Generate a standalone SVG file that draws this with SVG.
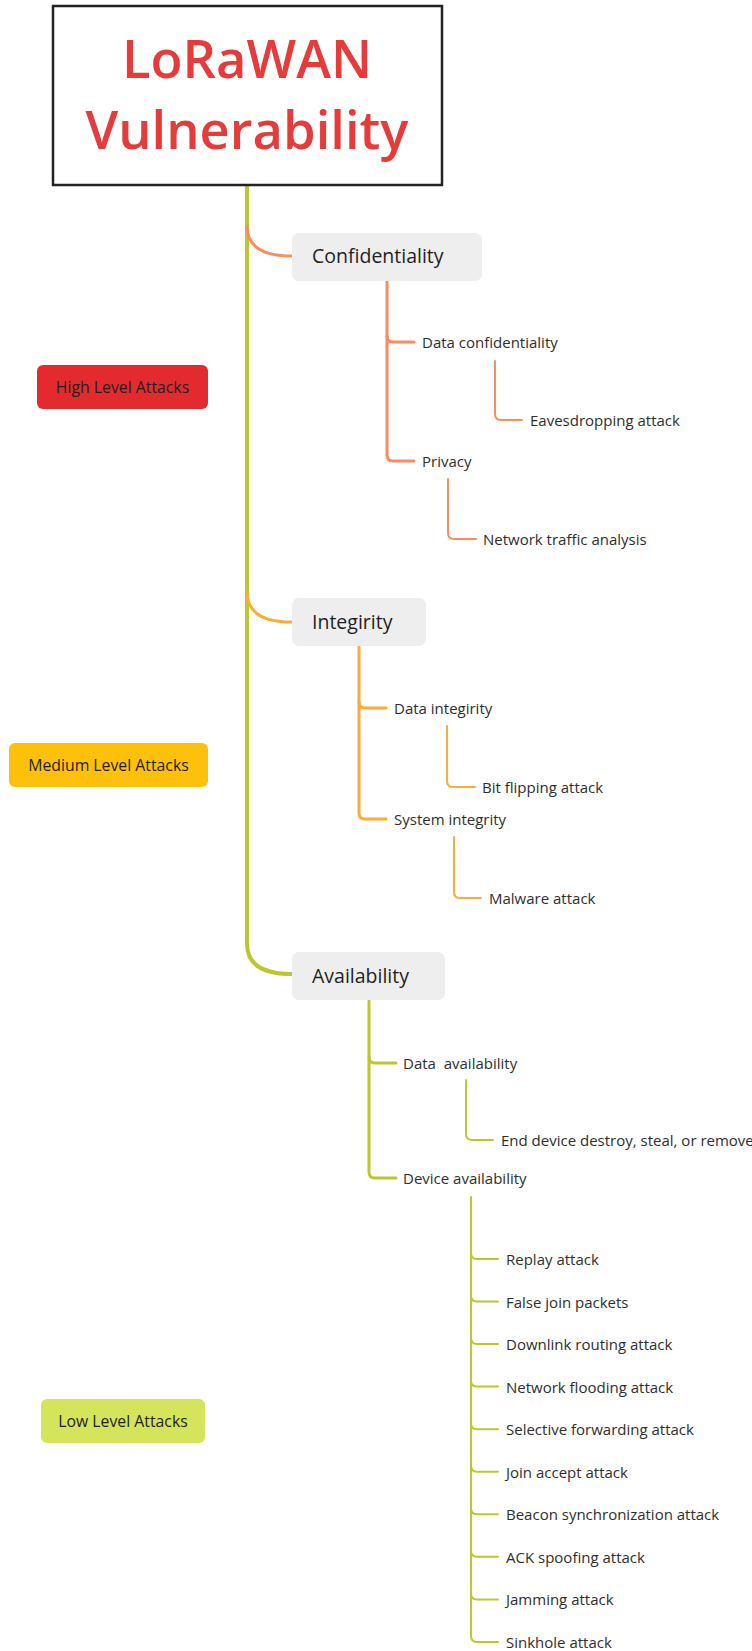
<svg xmlns="http://www.w3.org/2000/svg" width="752" height="1651" viewBox="0 0 752 1651">
  <style>
    text { font-family: "Open Sans", "Noto Sans", "Liberation Sans", sans-serif; fill: #2E2E2E; }
    .title { font-size: 52.5px; font-weight: 600; fill: #E53B3B; text-anchor: middle; }
    .topic { font-size: 19.5px; fill: #1F1F1F; }
    .leaf { font-size: 15px; }
    .legend { font-size: 15.8px; fill: #1F1F1F; text-anchor: middle; }
    .topicbox { fill: #EEEEEE; }
    .conn { fill: none; stroke-linecap: round; stroke-linejoin: round; }
    .o { stroke: #FF8A5C; }
    .y { stroke: #FFAA33; }
    .g { stroke: #BAC82E; }
    .w4 { stroke-width: 4; }
    .w3 { stroke-width: 3; }
    .w2 { stroke-width: 2; }
  </style>
  <rect x="0" y="0" width="752" height="1651" fill="#FFFFFF"/>

  <!-- connectors -->
  <g id="connectors" class="conn">
    <!-- trunk from the root down to Availability -->
    <path class="g w4" d="M247,186 L247,944 C247,964 262,974 292,974"/>
    <path class="o w3" d="M247,226 C247,246 262,256 292,256"/>
    <path class="y w3" d="M247,592 C247,612 262,622 292,622"/>

    <!-- Confidentiality branch -->
    <path class="o w3" d="M387,281 L387,336 Q387,342 393,342 L414,342"/>
    <path class="o w3" d="M387,336 L387,455 Q387,461 393,461 L414,461"/>
    <path class="o w2" d="M495,361 L495,414 Q495,420 501,420 L522,420"/>
    <path class="o w2" d="M448,479 L448,533 Q448,539 454,539 L476,539"/>

    <!-- Integrity branch -->
    <path class="y w3" d="M359,647 L359,702 Q359,708 365,708 L386,708"/>
    <path class="y w3" d="M359,702 L359,813 Q359,819 365,819 L386,819"/>
    <path class="y w2" d="M447,726 L447,781 Q447,787 453,787 L475,787"/>
    <path class="y w2" d="M454,837 L454,892 Q454,898 460,898 L481,898"/>

    <!-- Availability branch -->
    <path class="g w3" d="M369,1001 L369,1057 Q369,1063 375,1063 L396,1063"/>
    <path class="g w3" d="M369,1057 L369,1172 Q369,1178 375,1178 L396,1178"/>
    <path class="g w2" d="M466,1080 L466,1134 Q466,1140 472,1140 L493,1140"/>

    <!-- Device availability attacks -->
    <path class="g w2" d="M471,1197 L471,1636 Q471,1642 477,1642 L498,1642"/>
    <path class="g w2" d="M471,1253 Q471,1259 477,1259 L498,1259"/>
    <path class="g w2" d="M471,1295.5 Q471,1301.5 477,1301.5 L498,1301.5"/>
    <path class="g w2" d="M471,1338 Q471,1344 477,1344 L498,1344"/>
    <path class="g w2" d="M471,1380.6 Q471,1386.6 477,1386.6 L498,1386.6"/>
    <path class="g w2" d="M471,1423.2 Q471,1429.2 477,1429.2 L498,1429.2"/>
    <path class="g w2" d="M471,1465.7 Q471,1471.7 477,1471.7 L498,1471.7"/>
    <path class="g w2" d="M471,1508.3 Q471,1514.3 477,1514.3 L498,1514.3"/>
    <path class="g w2" d="M471,1550.8 Q471,1556.8 477,1556.8 L498,1556.8"/>
    <path class="g w2" d="M471,1593.4 Q471,1599.4 477,1599.4 L498,1599.4"/>
  </g>

  <!-- root -->
  <g id="root">
    <rect x="53" y="6" width="389" height="179" fill="#FFFFFF" stroke="#222222" stroke-width="2.5"/>
    <text class="title" x="247" y="78">LoRaWAN</text>
    <text class="title" x="247" y="149">Vulnerability</text>
  </g>

  <!-- legend badges -->
  <g id="legend-high">
    <rect x="37" y="365" width="171" height="44" rx="6" fill="#E32B2F"/>
    <text class="legend" x="122.5" y="393">High Level Attacks</text>
  </g>
  <g id="legend-medium">
    <rect x="9" y="743" width="199" height="44" rx="6" fill="#FEC10B"/>
    <text class="legend" x="108.5" y="771">Medium Level Attacks</text>
  </g>
  <g id="legend-low">
    <rect x="41" y="1399" width="164" height="44" rx="6" fill="#D4E55C"/>
    <text class="legend" x="123" y="1427">Low Level Attacks</text>
  </g>

  <!-- Confidentiality -->
  <g id="confidentiality">
    <rect class="topicbox" x="292" y="233" width="190" height="48" rx="7"/>
    <text class="topic" x="312" y="263">Confidentiality</text>
  </g>
  <g id="data-confidentiality"><text class="leaf" x="422" y="348">Data confidentiality</text></g>
  <g id="eavesdropping"><text class="leaf" x="530" y="426">Eavesdropping attack</text></g>
  <g id="privacy"><text class="leaf" x="422" y="467">Privacy</text></g>
  <g id="traffic-analysis"><text class="leaf" x="483" y="545">Network traffic analysis</text></g>

  <!-- Integrity -->
  <g id="integrity">
    <rect class="topicbox" x="292" y="598" width="134" height="48" rx="7"/>
    <text class="topic" x="312" y="629">Integirity</text>
  </g>
  <g id="data-integrity"><text class="leaf" x="394" y="714">Data integirity</text></g>
  <g id="bit-flipping"><text class="leaf" x="482" y="793">Bit flipping attack</text></g>
  <g id="system-integrity"><text class="leaf" x="394" y="825">System integrity</text></g>
  <g id="malware"><text class="leaf" x="489" y="904">Malware attack</text></g>

  <!-- Availability -->
  <g id="availability">
    <rect class="topicbox" x="292" y="952" width="153" height="48" rx="7"/>
    <text class="topic" x="312" y="983">Availability</text>
  </g>
  <g id="data-availability"><text class="leaf" x="403" y="1069" xml:space="preserve">Data  availability</text></g>
  <g id="end-device"><text class="leaf" x="501" y="1146">End device destroy, steal, or remove</text></g>
  <g id="device-availability"><text class="leaf" x="403" y="1184">Device availability</text></g>

  <g id="replay"><text class="leaf" x="506" y="1265">Replay attack</text></g>
  <g id="false-join"><text class="leaf" x="506" y="1307.5">False join packets</text></g>
  <g id="downlink-routing"><text class="leaf" x="506" y="1350">Downlink routing attack</text></g>
  <g id="network-flooding"><text class="leaf" x="506" y="1392.6">Network flooding attack</text></g>
  <g id="selective-forwarding"><text class="leaf" x="506" y="1435.2">Selective forwarding attack</text></g>
  <g id="join-accept"><text class="leaf" x="506" y="1477.7">Join accept attack</text></g>
  <g id="beacon-sync"><text class="leaf" x="506" y="1520.3">Beacon synchronization attack</text></g>
  <g id="ack-spoofing"><text class="leaf" x="506" y="1562.8">ACK spoofing attack</text></g>
  <g id="jamming"><text class="leaf" x="506" y="1605.4">Jamming attack</text></g>
  <g id="sinkhole"><text class="leaf" x="506" y="1648">Sinkhole attack</text></g>
</svg>
